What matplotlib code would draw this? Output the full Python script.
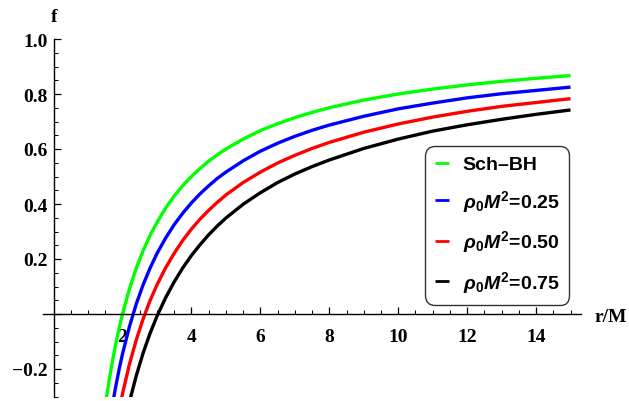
import matplotlib
matplotlib.use("Agg")
import matplotlib.pyplot as plt
from matplotlib.ticker import MultipleLocator, FixedLocator

plt.rcParams['mathtext.fontset'] = 'custom'
plt.rcParams['mathtext.rm'] = 'Liberation Sans:bold'
plt.rcParams['mathtext.it'] = 'Liberation Sans:italic:bold'
plt.rcParams['mathtext.bf'] = 'Liberation Sans:bold'

# radial coordinate r/M
r = [1.4, 1.5, 1.6, 1.7, 1.8, 1.9, 2.0, 2.2, 2.4, 2.6, 2.8, 3.0, 3.25, 3.5, 3.75,
     4.0, 4.25, 4.5, 4.75, 5.0, 5.5, 6.0, 6.5, 7.0, 7.5, 8.0, 9.0, 10.0, 11.0,
     12.0, 13.0, 14.0, 15.0]

f_sch = [-0.429, -0.333, -0.250, -0.177, -0.111, -0.053, 0.000, 0.091, 0.167, 0.231,
         0.286, 0.333, 0.385, 0.429, 0.467, 0.500, 0.529, 0.556, 0.579, 0.600,
         0.636, 0.667, 0.692, 0.714, 0.733, 0.750, 0.778, 0.800, 0.818, 0.833,
         0.846, 0.857, 0.867]
f_025 = [-0.609, -0.506, -0.416, -0.336, -0.266, -0.202, -0.145, -0.046, 0.037, 0.107,
         0.167, 0.220, 0.276, 0.325, 0.367, 0.404, 0.437, 0.466, 0.493, 0.516,
         0.557, 0.592, 0.621, 0.646, 0.668, 0.687, 0.719, 0.746, 0.767, 0.786,
         0.801, 0.813, 0.825]
f_050 = [-0.788, -0.678, -0.582, -0.496, -0.420, -0.352, -0.290, -0.183, -0.094, -0.017,
         0.049, 0.106, 0.168, 0.221, 0.268, 0.309, 0.345, 0.377, 0.406, 0.433,
         0.478, 0.516, 0.549, 0.577, 0.602, 0.624, 0.661, 0.691, 0.716, 0.737,
         0.755, 0.769, 0.783]
f_075 = [-0.968, -0.851, -0.748, -0.657, -0.575, -0.502, -0.435, -0.320, -0.224, -0.141,
         -0.070, -0.008, 0.059, 0.117, 0.168, 0.213, 0.252, 0.288, 0.320, 0.349,
         0.399, 0.441, 0.478, 0.509, 0.536, 0.560, 0.602, 0.636, 0.665, 0.688,
         0.708, 0.726, 0.742]

labels = ['Sch\u2013BH', r'$\rho_0M^2$=0.25', r'$\rho_0M^2$=0.50', r'$\rho_0M^2$=0.75']
colors = ['#00ff00', '#0000ff', '#ff0000', '#000000']

x_ticks = [2, 4, 6, 8, 10, 12, 14]
y_ticks = [-0.2, 0.2, 0.4, 0.6, 0.8, 1.0]
y_ticklabels = ['\u22120.2', '0.2', '0.4', '0.6', '0.8', '1.0']

W, H = 629, 402
fig = plt.figure(figsize=(W / 100, H / 100), dpi=100)
# data->pixel: x=0 at 53.6 px, 34.46 px/unit ; y=0 at 315 px, 275 px/unit
xmin, xmax = -0.3, 15.3
ymin, ymax = -0.3, 1.0
x0px, sx = 53.6, 34.46
y0px, sy = 315.0, 275.0
left = (x0px + xmin * sx) / W
right = (x0px + xmax * sx) / W
top = 1 - (y0px - ymax * sy) / H
bottom = 1 - (y0px - ymin * sy) / H
ax = fig.add_axes([left, bottom, right - left, top - bottom])

for ys, c, lab in zip([f_sch, f_025, f_050, f_075], colors, labels):
    ax.plot(r, ys, color=c, lw=2.4, label=lab, solid_capstyle='butt',
            solid_joinstyle='round')

ax.set_xlim(xmin, xmax)
ax.set_ylim(ymin, ymax)

for s in ['top', 'right']:
    ax.spines[s].set_visible(False)
ax.spines['left'].set_position(('data', 0))
ax.spines['bottom'].set_position(('data', 0))
for s in ['left', 'bottom']:
    ax.spines[s].set_linewidth(1.0)

ax.xaxis.set_major_locator(FixedLocator(x_ticks))
ax.xaxis.set_minor_locator(MultipleLocator(0.5))
ax.yaxis.set_major_locator(FixedLocator(y_ticks + [0.0]))
ax.yaxis.set_minor_locator(MultipleLocator(0.05))
ax.set_xticklabels([str(v) for v in x_ticks])
ax.set_yticklabels(y_ticklabels + [''])

ax.tick_params(axis='both', which='major', direction='in', length=5, width=0.9)
ax.tick_params(axis='both', which='minor', direction='in', length=3, width=0.7)
ax.tick_params(axis='x', which='major', pad=10)
ax.tick_params(axis='y', which='major', pad=4)
for lbl in ax.get_xticklabels() + ax.get_yticklabels():
    lbl.set_fontfamily('Liberation Serif')
    lbl.set_fontweight('bold')
    lbl.set_fontsize(14)

fig.text(54 / W, 1 - 18 / H, 'f', ha='center', va='center',
         fontfamily='Liberation Serif', fontweight='bold', fontsize=14)
fig.text(611 / W, 1 - 318 / H, 'r/M', ha='center', va='center',
         fontfamily='Liberation Serif', fontweight='bold', fontsize=14)

leg = ax.legend(loc='upper left', bbox_to_anchor=(425 / W, 1 - 147 / H),
                bbox_transform=fig.transFigure, frameon=True, fancybox=True,
                prop={'family': 'Liberation Sans', 'weight': 'bold', 'size': 14},
                handlelength=0.72, handletextpad=0.72, labelspacing=0.75,
                borderpad=0.5, borderaxespad=0)
leg.get_frame().set_edgecolor('black')
leg.get_frame().set_linewidth(1.0)
leg.get_frame().set_boxstyle('round', pad=0, rounding_size=0.5)
for h in leg.legend_handles:
    h.set_linewidth(2.0)

fig.savefig('out.png', dpi=100)
